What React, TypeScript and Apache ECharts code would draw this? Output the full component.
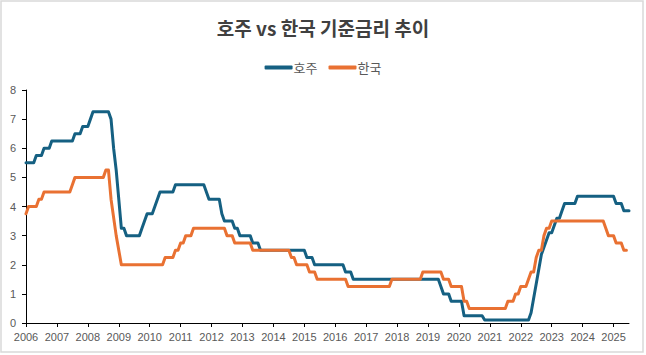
import React, { useEffect, useRef } from "react";
import * as echarts from "echarts";

const auDates = [
  "2006-01","2006-04","2006-05","2006-07","2006-08","2006-10","2006-11","2007-07","2007-08","2007-10",
  "2007-11","2008-01","2008-02","2008-03","2008-09","2008-10","2008-11","2008-12","2009-01",
  "2009-02","2009-03","2009-04","2009-09","2009-10","2009-11","2009-12","2010-02","2010-03","2010-04",
  "2010-05","2010-10","2010-11","2011-10","2011-11","2011-12","2012-04","2012-05","2012-06","2012-09",
  "2012-10","2012-11","2012-12","2013-04","2013-05","2013-07","2013-08","2015-01","2015-02","2015-04",
  "2015-05","2016-04","2016-05","2016-07","2016-08","2019-05","2019-06","2019-07","2019-09","2019-10",
  "2020-02","2020-03","2020-10","2020-11","2022-04","2022-05","2022-06","2022-07","2022-08","2022-09",
  "2022-10","2022-11","2022-12","2023-01","2023-02","2023-03","2023-04","2023-05","2023-06","2023-10",
  "2023-11","2025-01","2025-02","2025-04","2025-05","2025-07"
];
const auRates = [
  5.5,5.5,5.75,5.75,6.0,6.0,6.25,6.25,6.5,6.5,
  6.75,6.75,7.0,7.25,7.25,7.0,6.0,5.25,4.25,
  3.25,3.25,3.0,3.0,3.25,3.5,3.75,3.75,4.0,4.25,
  4.5,4.5,4.75,4.75,4.5,4.25,4.25,3.75,3.5,3.5,
  3.25,3.25,3.0,3.0,2.75,2.75,2.5,2.5,2.25,2.25,
  2.0,2.0,1.75,1.75,1.5,1.5,1.25,1.0,1.0,0.75,
  0.75,0.25,0.25,0.1,0.1,0.35,0.85,1.35,1.85,2.35,
  2.6,2.85,3.1,3.1,3.35,3.6,3.6,3.85,4.1,4.1,
  4.35,4.35,4.1,4.1,3.85,3.85
];

const krDates = [
  "2006-01","2006-02","2006-05","2006-06","2006-07","2006-08","2007-06","2007-07","2007-08","2008-07",
  "2008-08","2008-09","2008-10","2008-12","2009-02","2010-06","2010-07","2010-10",
  "2010-11","2010-12","2011-01","2011-02","2011-03","2011-05","2011-06","2012-06","2012-07","2012-09",
  "2012-10","2013-04","2013-05","2014-07","2014-08","2014-09","2014-10","2015-02","2015-03","2015-05",
  "2015-06","2016-05","2016-06","2017-10","2017-11","2018-10","2018-11","2019-06","2019-07","2019-09",
  "2019-10","2020-02","2020-03","2020-04","2020-05","2021-07","2021-08","2021-10","2021-11","2021-12",
  "2022-01","2022-03","2022-04","2022-05","2022-06","2022-07","2022-08","2022-09","2022-10","2022-11",
  "2022-12","2023-01","2024-09","2024-10","2024-11","2025-01","2025-02","2025-04","2025-05","2025-06"
];
const krRates = [
  3.75,4.0,4.0,4.25,4.25,4.5,4.5,4.75,5.0,5.0,
  5.25,5.25,4.25,3.0,2.0,2.0,2.25,2.25,
  2.5,2.5,2.75,2.75,3.0,3.0,3.25,3.25,3.0,3.0,
  2.75,2.75,2.5,2.5,2.25,2.25,2.0,2.0,1.75,1.75,
  1.5,1.5,1.25,1.25,1.5,1.5,1.75,1.75,1.5,1.5,
  1.25,1.25,0.75,0.75,0.5,0.5,0.75,0.75,1.0,1.0,
  1.25,1.25,1.5,1.75,1.75,2.25,2.5,2.5,3.0,3.25,
  3.25,3.5,3.5,3.25,3.0,3.0,2.75,2.75,2.5,2.5
];

const yearTicks = [
  2006,2007,2008,2009,2010,2011,2012,2013,2014,2015,
  2016,2017,2018,2019,2020,2021,2022,2023,2024,2025
];

const toYear = (s: string) => {
  const [y, m] = s.split("-").map(Number);
  return y + (m - 1) / 12;
};

export default function App() {
  const ref = useRef<HTMLDivElement>(null);
  useEffect(() => {
    if (!ref.current) return;
    const chart = echarts.init(ref.current, undefined, { renderer: "svg" });
    const labelColor = "#595959";
    chart.setOption({
      animation: false,
      backgroundColor: "#ffffff",
      title: {
        text: "호주 vs 한국 기준금리 추이",
        left: "center",
        top: 13,
        textStyle: {
          fontFamily: "Noto Sans CJK KR",
          fontSize: 19,
          fontWeight: "bold",
          color: "#404040",
        },
      },
      legend: {
        top: 56,
        left: "center",
        itemWidth: 28,
        itemHeight: 4,
        itemGap: 11,
        icon: "roundRect",
        textStyle: {
          fontFamily: "Noto Sans CJK KR",
          fontSize: 13,
          color: labelColor,
          padding: [0, 0, 0, -4],
        },
        data: ["호주", "한국"],
      },
      grid: { left: 26, right: 17, top: 90, bottom: 32, containLabel: false },
      xAxis: {
        type: "value",
        min: 2006,
        max: 2025.5,
        interval: 1,
        splitLine: { show: false },
        axisLine: { show: true, lineStyle: { color: "#000000", width: 1 } },
        axisTick: { show: true, length: 4, customValues: yearTicks, lineStyle: { color: "#000000" } },
        axisLabel: {
          customValues: yearTicks,
          formatter: (v: number) => String(Math.round(v)),
          color: labelColor,
          fontFamily: "Liberation Sans",
          fontSize: 11,
          margin: 8,
        },
      },
      yAxis: {
        type: "value",
        min: 0,
        max: 8,
        interval: 1,
        splitLine: { show: false },
        axisLine: { show: true, lineStyle: { color: "#000000", width: 1 } },
        axisTick: { show: true, length: 4, lineStyle: { color: "#000000" } },
        axisLabel: {
          color: labelColor,
          fontFamily: "Liberation Sans",
          fontSize: 11,
          margin: 10,
        },
      },
      series: [
        {
          name: "호주",
          type: "line",
          showSymbol: false,
          symbol: "none",
          color: "#156082",
          lineStyle: { width: 3, color: "#156082", join: "round", cap: "round" },
          data: auDates.map((d, i) => [toYear(d), auRates[i]]),
        },
        {
          name: "한국",
          type: "line",
          showSymbol: false,
          symbol: "none",
          color: "#E97132",
          lineStyle: { width: 3, color: "#E97132", join: "round", cap: "round" },
          data: krDates.map((d, i) => [toYear(d), krRates[i]]),
        },
      ],
      graphic: [
        {
          type: "rect",
          shape: { x: 1, y: 1, width: 642, height: 351 },
          style: { fill: "none", stroke: "#d9d9d9", lineWidth: 1.5 },
          silent: true,
        },
      ],
    });
    return () => chart.dispose();
  }, []);
  return (
    <div
      ref={ref}
      style={{ position: "absolute", left: 0, top: 0, width: 646, height: 355 }}
    />
  );
}
